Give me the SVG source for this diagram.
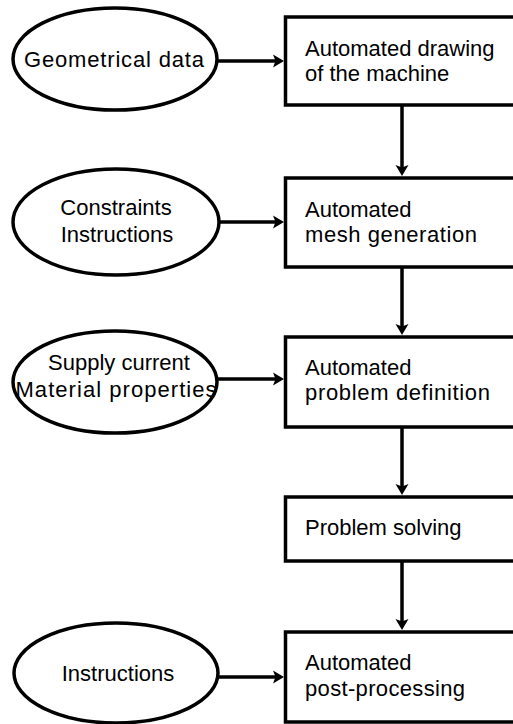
<svg xmlns="http://www.w3.org/2000/svg" width="513" height="724" viewBox="0 0 513 724">
  <defs>
    <style>
      .box { fill: #ffffff; stroke: #000000; stroke-width: 3.5; }
      .oval { fill: #ffffff; stroke: #000000; stroke-width: 3.5; }
      .lbl { font-family: "Liberation Sans", Arial, sans-serif; font-size: 22px; fill: #000000; }
      .mid { text-anchor: middle; }
      .wire { stroke: #000000; stroke-width: 3.5; fill: none; marker-end: url(#head); }
    </style>
    <marker id="head" markerUnits="userSpaceOnUse" markerWidth="12" markerHeight="14" refX="5" refY="7" orient="auto">
      <path d="M0,0.5 L11,7 L0,13.5 L2.5,7 Z" fill="#000000"/>
    </marker>
  </defs>
  <rect width="513" height="724" fill="#ffffff"/>

  <!-- process chain on the right -->
  <g id="drawing">
    <rect class="box" x="285.5" y="17" width="300" height="88"/>
    <text class="lbl" x="305" y="56">Automated drawing</text>
    <text class="lbl" x="305" y="81">of the machine</text>
  </g>
  <g id="mesh">
    <rect class="box" x="285.5" y="178" width="300" height="89"/>
    <text class="lbl" x="305" y="217">Automated</text>
    <text class="lbl" x="305" y="242" textLength="172">mesh generation</text>
  </g>
  <g id="definition">
    <rect class="box" x="285.5" y="337" width="300" height="90"/>
    <text class="lbl" x="305" y="375">Automated</text>
    <text class="lbl" x="305" y="400" textLength="185">problem definition</text>
  </g>
  <g id="solving">
    <rect class="box" x="285.5" y="497" width="300" height="64"/>
    <text class="lbl" x="305" y="535">Problem solving</text>
  </g>
  <g id="postprocessing">
    <rect class="box" x="285.5" y="632" width="300" height="90"/>
    <text class="lbl" x="305" y="670">Automated</text>
    <text class="lbl" x="305" y="696" textLength="160">post-processing</text>
  </g>

  <!-- inputs on the left -->
  <g id="geometry">
    <ellipse class="oval" cx="115" cy="59" rx="102" ry="51"/>
    <text class="lbl mid" x="114" y="67" textLength="180">Geometrical data</text>
  </g>
  <g id="constraints">
    <ellipse class="oval" cx="116" cy="222" rx="103" ry="53"/>
    <text class="lbl mid" x="116" y="215">Constraints</text>
    <text class="lbl mid" x="117" y="242">Instructions</text>
  </g>
  <g id="material">
    <ellipse class="oval" cx="115" cy="382" rx="102" ry="51"/>
    <text class="lbl mid" x="119" y="370">Supply current</text>
    <text class="lbl mid" x="116" y="397" textLength="201">Material properties</text>
  </g>
  <g id="instructions">
    <ellipse class="oval" cx="116" cy="673" rx="102" ry="50"/>
    <text class="lbl mid" x="118" y="681">Instructions</text>
  </g>

  <!-- connectors -->
  <g id="connectors">
    <line class="wire" x1="217" y1="61" x2="278" y2="61"/>
    <line class="wire" x1="219" y1="222" x2="278" y2="222"/>
    <line class="wire" x1="217" y1="379" x2="278" y2="379"/>
    <line class="wire" x1="218" y1="677" x2="278" y2="677"/>
    <line class="wire" x1="402" y1="105" x2="402" y2="170"/>
    <line class="wire" x1="402" y1="267" x2="402" y2="329"/>
    <line class="wire" x1="402" y1="427" x2="402" y2="489"/>
    <line class="wire" x1="402" y1="561" x2="402" y2="624"/>
  </g>
</svg>
